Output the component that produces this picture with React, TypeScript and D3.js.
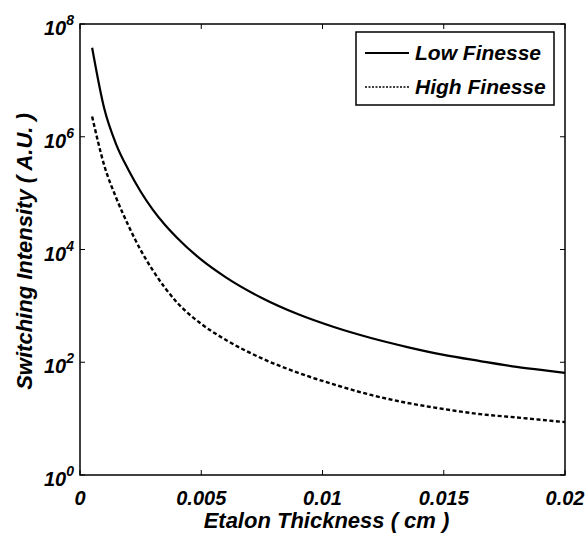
import React from 'react';
import * as d3 from 'd3';

const thickness = [0.0005, 0.001, 0.0015, 0.002, 0.0025, 0.003, 0.0035, 0.004, 0.005, 0.006, 0.0075, 0.009, 0.0105, 0.012, 0.0135, 0.015, 0.0165, 0.018, 0.0195, 0.02];
const lowFinesse = [3.8e7, 3.16e6, 7.2e5, 2.57e5, 1.07e5, 5.1e4, 2.75e4, 1.62e4, 6.6e3, 3.24e3, 1.38e3, 708, 417, 269, 186, 135, 105, 83, 69, 65];
const highFinesse = [2.29e6, 3.1e5, 8.1e4, 2.63e4, 9.8e3, 4.3e3, 2.1e3, 1.15e3, 479, 251, 117, 65, 40, 26.3, 19, 14.8, 12, 10.5, 9.1, 8.7];

const xTicks = [0, 0.005, 0.01, 0.015, 0.02];
const xTickLabels = ['0', '0.005', '0.01', '0.015', '0.02'];
const yExponents = [0, 2, 4, 6, 8];

const seriesNames = ['Low Finesse', 'High Finesse'];

const W = 587;
const H = 535;
const M = { left: 80, right: 565, top: 24, bottom: 475 };
const FONT = 'Liberation Sans, Arial, sans-serif';
const TICK = 5;

export default function App() {
  const x = d3.scaleLinear().domain([0, 0.02]).range([M.left, M.right]);
  const y = d3.scaleLog().domain([1, 1e8]).range([M.bottom, M.top]);

  const line = d3
    .line<[number, number]>()
    .x((d) => x(d[0]))
    .y((d) => y(d[1]))
    .curve(d3.curveMonotoneX);

  const lowPath = line(thickness.map((t, i) => [t, lowFinesse[i]]));
  const highPath = line(thickness.map((t, i) => [t, highFinesse[i]]));

  const textStyle = { fontFamily: FONT, fontWeight: 'bold' as const, fontStyle: 'italic' as const };

  return (
    <svg width={W} height={H} style={{ position: 'absolute', left: 0, top: 0, background: '#fff' }}>
      {/* curves */}
      <path d={lowPath || ''} fill="none" stroke="#000" strokeWidth={2.2} />
      <path d={highPath || ''} fill="none" stroke="#000" strokeWidth={2.4} strokeDasharray="4,2.5" />

      {/* frame */}
      <rect x={M.left} y={M.top} width={M.right - M.left} height={M.bottom - M.top} fill="none" stroke="#000" strokeWidth={1.5} />

      {/* x ticks */}
      {xTicks.map((t, i) => (
        <g key={'x' + i}>
          <line x1={x(t)} x2={x(t)} y1={M.bottom} y2={M.bottom - TICK} stroke="#000" />
          <line x1={x(t)} x2={x(t)} y1={M.top} y2={M.top + TICK} stroke="#000" />
          <text x={x(t)} y={M.bottom + 30} textAnchor="middle" fontSize={20} style={textStyle}>
            {xTickLabels[i]}
          </text>
        </g>
      ))}

      {/* y ticks */}
      {yExponents.map((e) => (
        <g key={'y' + e}>
          <line x1={M.left} x2={M.left + TICK} y1={y(10 ** e)} y2={y(10 ** e)} stroke="#000" />
          <line x1={M.right} x2={M.right - TICK} y1={y(10 ** e)} y2={y(10 ** e)} stroke="#000" />
          <text x={M.left - 6} y={y(10 ** e) + 11} textAnchor="end" fontSize={20} style={textStyle}>
            10
            <tspan fontSize={14} dy={-10}>
              {e}
            </tspan>
          </text>
        </g>
      ))}

      {/* axis labels */}
      <text x={(M.left + M.right) / 2 + 4} y={528} textAnchor="middle" fontSize={22} style={textStyle}>
        Etalon Thickness ( cm )
      </text>
      <text
        transform={`translate(32, ${(M.top + M.bottom) / 2 + 2}) rotate(-90)`}
        textAnchor="middle"
        fontSize={22}
        style={textStyle}
      >
        Switching Intensity ( A.U. )
      </text>

      {/* legend */}
      <rect x={356} y={32} width={198} height={73} fill="#fff" stroke="#000" strokeWidth={1.5} />
      {seriesNames.map((name, i) => (
        <g key={name}>
          <line
            x1={365}
            x2={409}
            y1={53 + i * 34}
            y2={53 + i * 34}
            stroke="#000"
            strokeWidth={i === 0 ? 2.2 : 1.5}
            strokeDasharray={i === 0 ? undefined : '2,1.5'}
          />
          <text x={415} y={60 + i * 34} fontSize={21} style={textStyle}>
            {name}
          </text>
        </g>
      ))}
    </svg>
  );
}
